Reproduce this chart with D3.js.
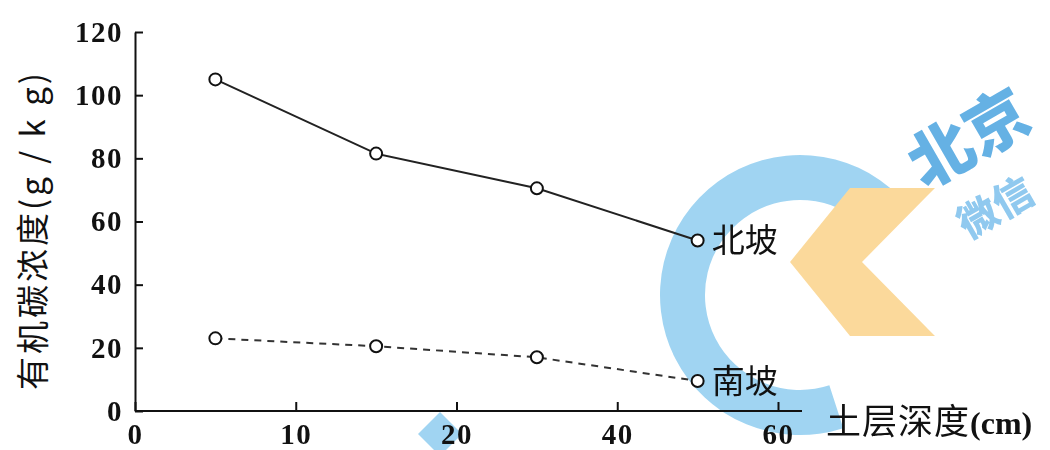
<!DOCTYPE html>
<html>
<head>
<meta charset="utf-8">
<script src="https://cdn.jsdelivr.net/npm/d3@7"></script>
<style>
  body { margin: 0; background: #fff; }
  svg { display: block; }
</style>
</head>
<body>
<svg id="svg" width="1050" height="450"></svg>
<script>
// soil layer depth ticks (cm) and sample depths (middle of each layer)
var depthTicks = [0, 10, 20, 40, 60];
var depths = [5, 15, 30, 50];
var yTicks = [0, 20, 40, 60, 80, 100, 120];

// organic carbon concentration (g/kg)
var northSlope = [105, 81.5, 70.5, 54];
var southSlope = [23, 20.5, 17, 9.5];

var seriesNames = ['北坡', '南坡'];

var width = document.getElementById('svg').clientWidth;
var height = document.getElementById('svg').clientHeight;

var x0 = 135, step = 160.75;
var svg = d3.select('svg');

// watermark (rough)
var wm = svg.append('g').attr('opacity', 0.85);
var arc = d3.arc().innerRadius(95).outerRadius(140)
    .startAngle(Math.PI * 0.25).endAngle(-Math.PI * 1.1);
wm.append('path').attr('d', arc).attr('transform', 'translate(800,295)').attr('fill', '#8fcdf0');
wm.append('path')
    .attr('d', 'M850,188 L935,188 L862,262 L935,336 L850,336 L790,262 Z')
    .attr('fill', '#fbd38a');
wm.append('path')
    .attr('d', 'M440,412 L462,434 L440,456 L418,434 Z')
    .attr('fill', '#8fcdf0');
wm.append('text').attr('transform', 'translate(925,190) rotate(-30)')
    .attr('font-family', 'Noto Sans CJK SC').attr('font-weight', 900)
    .attr('font-size', 64).attr('fill', '#4aa3e0').text('北京');
wm.append('text').attr('transform', 'translate(968,240) rotate(-30)')
    .attr('font-family', 'Noto Sans CJK SC').attr('font-weight', 900)
    .attr('font-size', 40).attr('fill', '#7cc0ec').text('微信');

var x = d3.scaleLinear()
    .domain(depthTicks)
    .range(depthTicks.map(function (d, i) { return x0 + i * step; }));

var y = d3.scaleLinear()
    .domain([0, 120])
    .range([411, 32]);

var tickFont = 'Liberation Serif';

// axes
var xAxis = svg.append('g')
    .attr('transform', 'translate(0,' + y(0) + ')')
    .call(d3.axisBottom(x).tickValues(depthTicks).tickSizeInner(-9).tickSizeOuter(0).tickPadding(12));
xAxis.select('.domain').attr('d', 'M' + x(0) + ',0H' + (x(60) + 24)).attr('stroke-width', 2);

var yAxis = svg.append('g')
    .attr('transform', 'translate(' + x(0) + ',0)')
    .call(d3.axisLeft(y).tickValues(yTicks).tickSizeInner(-8).tickSizeOuter(0).tickPadding(12));
yAxis.select('.domain').attr('stroke-width', 2);

svg.selectAll('.tick line').attr('stroke', '#111').attr('stroke-width', 2);
svg.selectAll('.domain').attr('stroke', '#111');
svg.selectAll('.tick text')
    .attr('font-family', tickFont)
    .attr('font-weight', 'bold')
    .attr('font-size', 29)
    .attr('letter-spacing', 1.5)
    .attr('fill', '#111');

// lines
var line = d3.line()
    .x(function (d, i) { return x(depths[i]); })
    .y(function (d) { return y(d); });

svg.append('path')
    .datum(northSlope)
    .attr('d', line)
    .attr('fill', 'none')
    .attr('stroke', '#222')
    .attr('stroke-width', 2);

svg.append('path')
    .datum(southSlope)
    .attr('d', line)
    .attr('fill', 'none')
    .attr('stroke', '#333')
    .attr('stroke-width', 2)
    .attr('stroke-dasharray', '7,6');

[northSlope, southSlope].forEach(function (series, k) {
    svg.append('g').selectAll('circle')
        .data(series)
        .enter()
        .append('circle')
        .attr('cx', function (d, i) { return x(depths[i]); })
        .attr('cy', function (d) { return y(d); })
        .attr('r', 6)
        .attr('fill', '#fff')
        .attr('stroke', '#111')
        .attr('stroke-width', 2);

    svg.append('text')
        .attr('x', x(depths[depths.length - 1]) + 14)
        .attr('y', y(series[series.length - 1]) + 12)
        .attr('font-family', 'Noto Sans CJK SC')
        .attr('font-size', 33)
        .attr('fill', '#111')
        .text(seriesNames[k]);
});

// axis titles
var xt = svg.append('text')
    .attr('x', 826)
    .attr('y', 434)
    .attr('fill', '#111');
xt.append('tspan').attr('font-family', 'Noto Sans CJK SC').attr('font-size', 35).attr('letter-spacing', 1).text('土层深度');
xt.append('tspan').attr('font-family', tickFont).attr('font-weight', 'bold').attr('font-size', 32).text('(cm)');

svg.append('text')
    .attr('transform', 'translate(45,230) rotate(-90)')
    .attr('text-anchor', 'middle')
    .attr('font-family', 'Noto Sans CJK SC')
    .attr('font-size', 33)
    .attr('fill', '#111')
    .attr('letter-spacing', 3)
    .text('有机碳浓度(g / k g)');
</script>
</body>
</html>
